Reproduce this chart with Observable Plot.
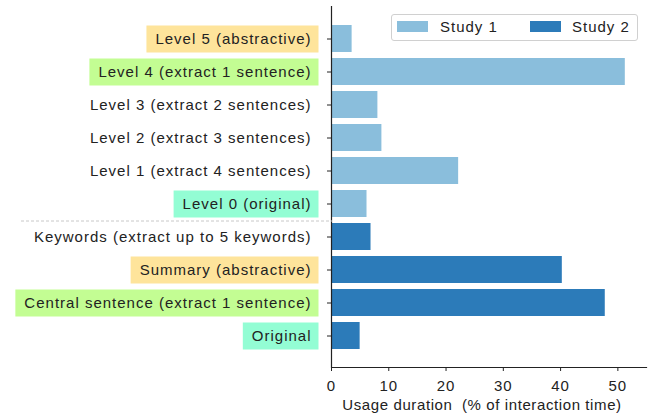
<!DOCTYPE html>
<html>
<head>
<meta charset="utf-8">
<script src="https://cdn.jsdelivr.net/npm/d3@7"></script>
<script src="https://cdn.jsdelivr.net/npm/@observablehq/plot@0.6"></script>
<style>
  html, body { margin: 0; padding: 0; background: #fff; }
  #wrap { position: relative; width: 651px; height: 415px; font-family: "Liberation Sans", Arial, sans-serif; }
  #legend { position: absolute; left: 391px; top: 14px; width: 245px; height: 25px; border: 1px solid #d0d0d0; border-radius: 3px; background: #fff;
            font-size: 15px; letter-spacing: 1px; color: #222; }
  .sw { position: absolute; top: 6px; width: 31px; height: 11px; }
  .lt { position: absolute; top: 3px; line-height: 18px; }
</style>
</head>
<body>
<div id="wrap"></div>
<script>
const categories = [
  "Level 5 (abstractive)",
  "Level 4 (extract 1 sentence)",
  "Level 3 (extract 2 sentences)",
  "Level 2 (extract 3 sentences)",
  "Level 1 (extract 4 sentences)",
  "Level 0 (original)",
  "Keywords (extract up to 5 keywords)",
  "Summary (abstractive)",
  "Central sentence (extract 1 sentence)",
  "Original"
];
const values = [3.6, 51.3, 8.1, 8.8, 22.2, 6.2, 6.9, 40.3, 47.8, 5.0];
const studies = ["Study 1","Study 1","Study 1","Study 1","Study 1","Study 1","Study 2","Study 2","Study 2","Study 2"];
const studyNames = ["Study 1", "Study 2"];
const studyColors = ["#8abedc", "#2c7bb9"];
const highlightLabels = ["Level 5 (abstractive)", "Level 4 (extract 1 sentence)", "Level 0 (original)",
                         "Summary (abstractive)", "Central sentence (extract 1 sentence)", "Original"];
const highlightColors = ["#fee49b", "#c3fd93", "#93fdd4", "#fee49b", "#c3fd93", "#93fdd4"];
const xTicks = [0, 10, 20, 30, 40, 50];

const data = categories.map((c, i) => ({category: c, value: values[i], study: studies[i]}));

const plot = Plot.plot({
  width: 651,
  height: 415,
  marginLeft: 331,
  marginRight: 5,
  marginTop: 6,
  marginBottom: 48,
  style: {fontFamily: '"Liberation Sans", Arial, sans-serif', fontSize: "15px", letterSpacing: "1px", color: "#222", background: "#fff"},
  x: {domain: [0, 55], ticks: xTicks},
  y: {domain: categories, range: [16.6, 357], padding: 0.19},
  color: {domain: studyNames, range: studyColors},
  marks: [
    Plot.barX(data, {x: "value", y: "category", fill: "study"}),
    Plot.ruleX([0], {stroke: "#222", strokeWidth: 1.2}),
    Plot.frame({anchor: "bottom", stroke: "#222", strokeWidth: 1.2}),
    Plot.axisX({ticks: xTicks, tickSize: 4, tickPadding: 9, label: "Usage duration  (% of interaction time)", labelAnchor: "center", labelArrow: "none", labelOffset: 42}),
    Plot.axisY({tickSize: 4, tickPadding: 16, label: null})
  ]
});

document.getElementById("wrap").appendChild(plot);

// tighten the x-axis label like the reference
d3.select(plot).selectAll('g[aria-label="x-axis label"] text')
  .style("letter-spacing", "0.6px").attr("dx", -7);

// highlight boxes behind selected tick labels
const yScale = plot.scale("y");
const bw = yScale.bandwidth;
d3.select(plot).selectAll('g[aria-label="y-axis tick label"] text').each(function() {
  const label = d3.select(this).text();
  const idx = highlightLabels.indexOf(label);
  if (idx < 0) return;
  const bb = this.getBBox();
  const rect = document.createElementNS("http://www.w3.org/2000/svg", "rect");
  rect.setAttribute("x", bb.x - 9);
  rect.setAttribute("width", bb.width + 16);
  rect.setAttribute("y", -bw / 2);
  rect.setAttribute("height", bw);
  rect.setAttribute("fill", highlightColors[idx]);
  const tr = this.getAttribute("transform");
  if (tr) rect.setAttribute("transform", tr);
  this.parentNode.insertBefore(rect, this);
});
d3.select(plot).selectAll('g[aria-label="y-axis tick label"] text').raise();

// dashed separator between the two studies
const sepY = (yScale.apply(categories[5]) + yScale.apply(categories[6])) / 2 + bw / 2 + 1;
d3.select(plot).append("line")
  .attr("x1", 21).attr("x2", 332)
  .attr("y1", sepY).attr("y2", sepY)
  .attr("stroke", "#c8c8c8").attr("stroke-width", 1).attr("stroke-dasharray", "3,2");

// legend inside the plot, top right
const legend = document.createElement("div");
legend.id = "legend";
legend.innerHTML =
  `<div class="sw" style="left:5px;background:${studyColors[0]}"></div><div class="lt" style="left:48px">${studyNames[0]}</div>` +
  `<div class="sw" style="left:138px;background:${studyColors[1]}"></div><div class="lt" style="left:180px">${studyNames[1]}</div>`;
document.getElementById("wrap").appendChild(legend);
</script>
</body>
</html>
